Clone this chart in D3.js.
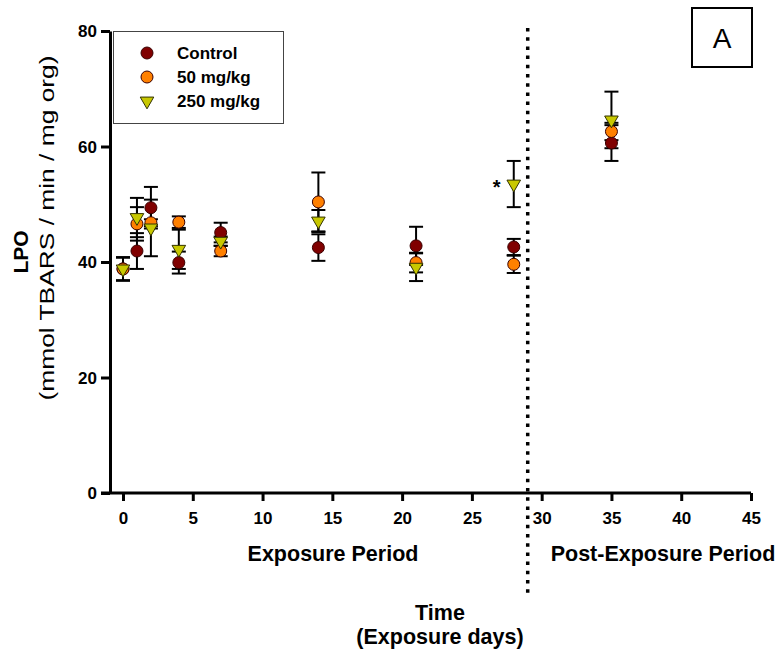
<!DOCTYPE html>
<html>
  <head>
    <meta http-equiv="Content-type" content="text/html; charset=utf-8">
    <title>LPO panel A</title>
    <script src="https://d3js.org/d3.v7.min.js"></script>
    <style>
      body { margin: 0; background: #fff; }
      text { font-family: "Liberation Sans", Arial, sans-serif; }
    </style>
  </head>
  <body>
    <div id="chart"></div>
    <script type="text/javascript">
      // exposure days
      var days = [0, 1, 2, 4, 7, 14, 21, 28, 35];

      var control = [38.8, 41.9, 49.4, 39.9, 45.1, 42.5, 42.8, 42.6, 60.6];
      var controlErr = [2.0, 3.1, 3.6, 1.9, 1.7, 2.3, 3.3, 1.4, 3.1];

      var dose50 = [38.8, 46.6, 46.8, 46.9, 41.9, 50.4, 39.9, 39.6, 62.6];
      var dose50Err = [2.0, 2.9, 0.6, 1.0, 0.9, 5.1, 1.7, 1.5, 1.5];

      var dose250 = [38.8, 47.7, 45.9, 42.2, 43.6, 47.1, 39.1, 53.5, 64.6];
      var dose250Err = [2.0, 3.4, 4.9, 3.4, 0.8, 1.9, 2.4, 4.0, 4.9];

      var seriesNames = ["Control", "50 mg/kg", "250 mg/kg"];
      var xTicks = [0, 5, 10, 15, 20, 25, 30, 35, 40, 45];
      var yTicks = [0, 20, 40, 60, 80];
      var exposureEnd = 29;
      var starDay = 28;

      var width = 780,
        height = 655;

      var series = [
        { name: seriesNames[0], vals: control, err: controlErr, fill: "#800000", shape: "circle" },
        { name: seriesNames[1], vals: dose50, err: dose50Err, fill: "#ff8000", shape: "circle" },
        { name: seriesNames[2], vals: dose250, err: dose250Err, fill: "#c8c800", shape: "triangle" }
      ];

      var x = d3.scaleLinear().domain([0, 45]).range([123, 751]);
      var y = d3.scaleLinear().domain([0, 80]).range([493, 31]);

      var svg = d3.select("#chart").append("svg")
        .attr("width", width)
        .attr("height", height);

      // axes
      var xAxis = svg.append("g")
        .attr("transform", "translate(0," + y(0) + ")")
        .call(d3.axisBottom(x).tickValues(xTicks).tickSizeInner(8).tickSizeOuter(0).tickPadding(11));
      xAxis.select(".domain").attr("d", "M101,0H751");

      var yAxis = svg.append("g")
        .attr("transform", "translate(110,0)")
        .call(d3.axisLeft(y).tickValues(yTicks).tickSizeInner(9).tickSizeOuter(0).tickPadding(4));

      svg.selectAll(".domain").attr("stroke", "#000").attr("stroke-width", 3);
      svg.selectAll(".tick line").attr("stroke", "#000").attr("stroke-width", 3);
      svg.selectAll(".tick text")
        .style("font-family", "'Liberation Sans', Arial, sans-serif")
        .style("font-size", "17px")
        .style("font-weight", "bold")
        .attr("fill", "#000");
      yAxis.selectAll(".tick text").attr("dy", "0.35em");

      // dotted line at end of exposure
      svg.append("line")
        .attr("x1", x(exposureEnd)).attr("x2", x(exposureEnd))
        .attr("y1", 28).attr("y2", 596)
        .attr("stroke", "#000")
        .attr("stroke-width", 3.5)
        .attr("stroke-dasharray", "3.5,5.7");

      // error bars first, then markers
      var capW = 7;
      series.forEach(function(s) {
        var g = svg.append("g");
        days.forEach(function(d, i) {
          var cx = x(d),
            top = y(s.vals[i] + s.err[i]),
            bot = y(s.vals[i] - s.err[i]);
          g.append("line").attr("x1", cx).attr("x2", cx).attr("y1", top).attr("y2", bot);
          g.append("line").attr("x1", cx - capW).attr("x2", cx + capW).attr("y1", top).attr("y2", top);
          g.append("line").attr("x1", cx - capW).attr("x2", cx + capW).attr("y1", bot).attr("y2", bot);
        });
        g.selectAll("line").attr("stroke", "#000").attr("stroke-width", 2);
      });

      var tri = d3.symbol().type(d3.symbolTriangle).size(80);

      function drawMarker(sel, s, cx, cy) {
        if (s.shape == "circle") {
          sel.append("circle")
            .attr("cx", cx).attr("cy", cy).attr("r", 6)
            .attr("fill", s.fill)
            .attr("stroke", "#3a0000")
            .attr("stroke-width", 1);
        } else {
          sel.append("path")
            .attr("d", tri)
            .attr("transform", "translate(" + cx + "," + cy + ") rotate(180)")
            .attr("fill", s.fill)
            .attr("stroke", "#333300")
            .attr("stroke-width", 1);
        }
      }

      series.forEach(function(s) {
        var g = svg.append("g");
        days.forEach(function(d, i) {
          drawMarker(g, s, x(d), y(s.vals[i]));
        });
      });

      // significance star
      svg.append("text")
        .attr("x", x(starDay) - 17)
        .attr("y", y(dose250[days.indexOf(starDay)]) + 10)
        .attr("text-anchor", "middle")
        .style("font-size", "20px")
        .style("font-weight", "bold")
        .text("*");

      // legend
      var legend = svg.append("g");
      legend.append("rect")
        .attr("x", 113.5).attr("y", 31.5)
        .attr("width", 170).attr("height", 92)
        .attr("fill", "#fff")
        .attr("stroke", "#444")
        .attr("stroke-width", 1);
      series.forEach(function(s, i) {
        var ly = 53 + i * 24;
        drawMarker(legend, s, 147, ly);
        legend.append("text")
          .attr("x", 177)
          .attr("y", ly + 6)
          .style("font-size", "17px")
          .style("font-weight", "bold")
          .text(s.name);
      });

      // panel letter
      svg.append("rect")
        .attr("x", 692).attr("y", 8)
        .attr("width", 60).attr("height", 59)
        .attr("fill", "none")
        .attr("stroke", "#000")
        .attr("stroke-width", 2);
      svg.append("text")
        .attr("x", 722).attr("y", 48)
        .attr("text-anchor", "middle")
        .style("font-size", "28px")
        .text("A");

      // axis titles
      var titleSize = "21.5px";
      svg.append("text")
        .attr("x", 333).attr("y", 561)
        .attr("text-anchor", "middle")
        .style("font-size", titleSize)
        .style("font-weight", "bold")
        .text("Exposure Period");
      svg.append("text")
        .attr("x", 663).attr("y", 561)
        .attr("text-anchor", "middle")
        .style("font-size", titleSize)
        .style("font-weight", "bold")
        .text("Post-Exposure Period");
      svg.append("text")
        .attr("x", 440).attr("y", 620)
        .attr("text-anchor", "middle")
        .style("font-size", titleSize)
        .style("font-weight", "bold")
        .text("Time");
      svg.append("text")
        .attr("x", 440).attr("y", 644)
        .attr("text-anchor", "middle")
        .style("font-size", titleSize)
        .style("font-weight", "bold")
        .text("(Exposure days)");

      svg.append("text")
        .attr("transform", "translate(28,252) rotate(-90)")
        .attr("text-anchor", "middle")
        .style("font-size", "21px")
        .style("font-weight", "bold")
        .text("LPO");
      svg.append("text")
        .attr("transform", "translate(54,228) rotate(-90)")
        .attr("text-anchor", "middle")
        .attr("textLength", 345)
        .attr("lengthAdjust", "spacingAndGlyphs")
        .style("font-size", "20px")
        .text("(mmol TBARS / min / mg org)");
    </script>
  </body>
</html>
